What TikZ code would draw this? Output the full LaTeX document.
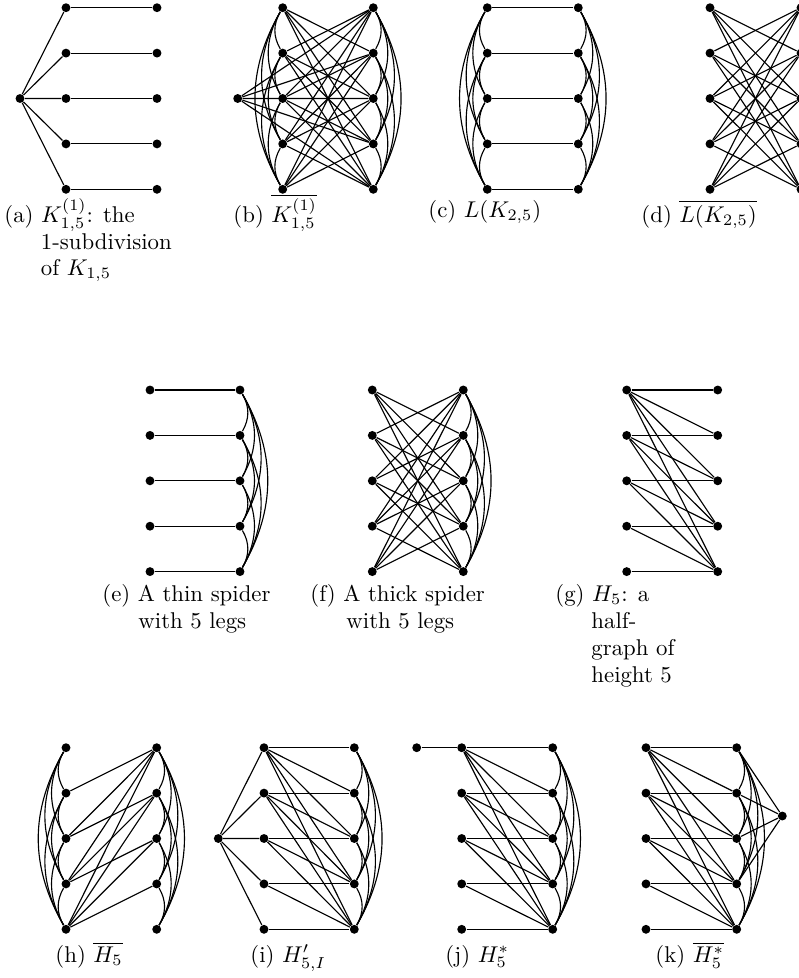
\documentclass[tikz,border=0pt]{standalone}
\newcommand\GCols[4]{% prefix, xL, xR, ytop
  \foreach \i in {1,...,5} {
    \node[v] (#1L\i) at (#2, {-(#4+45.4*(\i-1))}) {};
    \node[v] (#1R\i) at (#3, {-(#4+45.4*(\i-1))}) {};
  }}
\newcommand\GCross[1]{\foreach \i in {1,...,5}{\foreach \j in {1,...,5}{\ifnum\i=\j\else\draw[ed] (#1L\i)--(#1R\j);\fi}}}
\newcommand\GMatch[1]{\foreach \i in {1,...,5}{\draw[ed] (#1L\i)--(#1R\i);}}
\newcommand\GHalf[1]{\foreach \i in {1,...,5}{\foreach \j in {\i,...,5}{\draw[ed] (#1L\i)--(#1R\j);}}}
\newcommand\GCoHalf[1]{\foreach \i in {2,...,5}{\pgfmathtruncatemacro\m{\i-1}\foreach \j in {1,...,\m}{\draw[ed] (#1L\i)--(#1R\j);}}}
\newcommand\GLclq[1]{\foreach \i in {1,...,4}{\pgfmathtruncatemacro\k{\i+1}\foreach \j in {\k,...,5}{\draw[ed] (#1L\i) to[bend right=30] (#1L\j);}}}
\newcommand\GRclq[1]{\foreach \i in {1,...,4}{\pgfmathtruncatemacro\k{\i+1}\foreach \j in {\k,...,5}{\draw[ed] (#1R\i) to[bend left=30] (#1R\j);}}}
\begin{document}
\begin{tikzpicture}[x=0.4386pt,y=0.4386pt,
  v/.style={circle,fill=black,inner sep=0pt,minimum size=3.9pt},
  ed/.style={line width=0.5pt},
  captext/.style={anchor=base west,inner sep=0pt}]
\useasboundingbox (0,0) rectangle (799,-978);
\clip (0,0) rectangle (799,-978);

% ---------- row 1 ----------
% (a)
\GCols{a}{66}{157}{7.7}
\node[v] (ac) at (20,-98.5) {};
\foreach \i in {1,...,5}{\draw[ed] (ac)--(aL\i);}
\GMatch{a}
% (b)
\GCols{b}{282.7}{373.3}{7.7}
\node[v] (bc) at (237.7,-98.5) {};
\foreach \i in {1,...,5}{\draw[ed] (bc)--(bR\i);}
\GCross{b}\GLclq{b}\GRclq{b}
% (c)
\GCols{c}{487.3}{578.3}{7.7}
\GMatch{c}\GLclq{c}\GRclq{c}
% (d)
\GCols{d}{710}{801}{7.7}
\GCross{d}

% ---------- row 2 ----------
\GCols{e}{150}{240}{390}
\GMatch{e}\GRclq{e}
\GCols{f}{372.3}{463.3}{390}
\GCross{f}\GRclq{f}
\GCols{g}{626.7}{717.7}{390}
\GHalf{g}

% ---------- row 3 ----------
\GCols{h}{66}{156.7}{747.7}
\GLclq{h}\GRclq{h}\GCoHalf{h}
\GCols{i}{264}{354.3}{747.7}
\node[v] (ic) at (218.3,-838.5) {};
\foreach \i in {1,...,5}{\draw[ed] (ic)--(iL\i);}
\GHalf{i}\GRclq{i}
\GCols{j}{461.7}{552.7}{747.7}
\node[v] (jp) at (416.7,-747.7) {};
\draw[ed] (jp)--(jL1);
\GHalf{j}\GRclq{j}
\GCols{k}{646}{736.7}{747.7}
\node[v] (kq) at (782.3,-816) {};
\foreach \i in {1,...,4}{\draw[ed] (kq)--(kR\i);}
\GHalf{k}\GRclq{k}

% ---------- captions ----------
\node[captext] (capa1) at (4,-222) {(a) $K_{1,5}^{(1)}$: the};
\node[captext] (capa2) at (40.5,-249) {1-subdivision};
\node[captext] (capa3) at (40.5,-275) {of $K_{1,5}$};
\node[captext] (capb) at (233,-222) {(b) $\overline{K_{1,5}^{(1)}}$};
\node[captext] (capc) at (428,-217) {(c) $L(K_{2,5})$};
\node[captext] (capd) at (641,-222) {(d) $\overline{L(K_{2,5})}$};

\node[captext] (cape1) at (102,-601) {(e) A thin spider};
\node[captext] (cape2) at (138,-628) {with 5 legs};
\node[captext] (capf1) at (310,-601) {(f) A thick spider};
\node[captext] (capf2) at (346,-628) {with 5 legs};
\node[captext] (capg1) at (555,-601) {(g) $H_5$: a};
\node[captext] (capg2) at (591,-628) {half-};
\node[captext] (capg3) at (591,-655) {graph of};
\node[captext] (capg4) at (591,-682) {height 5};

\node[captext] (caph) at (55,-962) {(h) $\overline{H_5}$};
\node[captext] (capi) at (250,-962) {(i) $H'_{5,I}$};
\node[captext] (capj) at (445,-962) {(j) $H^*_5$};
\node[captext] (capk) at (655,-962) {(k) $\overline{H^*_5}$};
\end{tikzpicture}
\end{document}
